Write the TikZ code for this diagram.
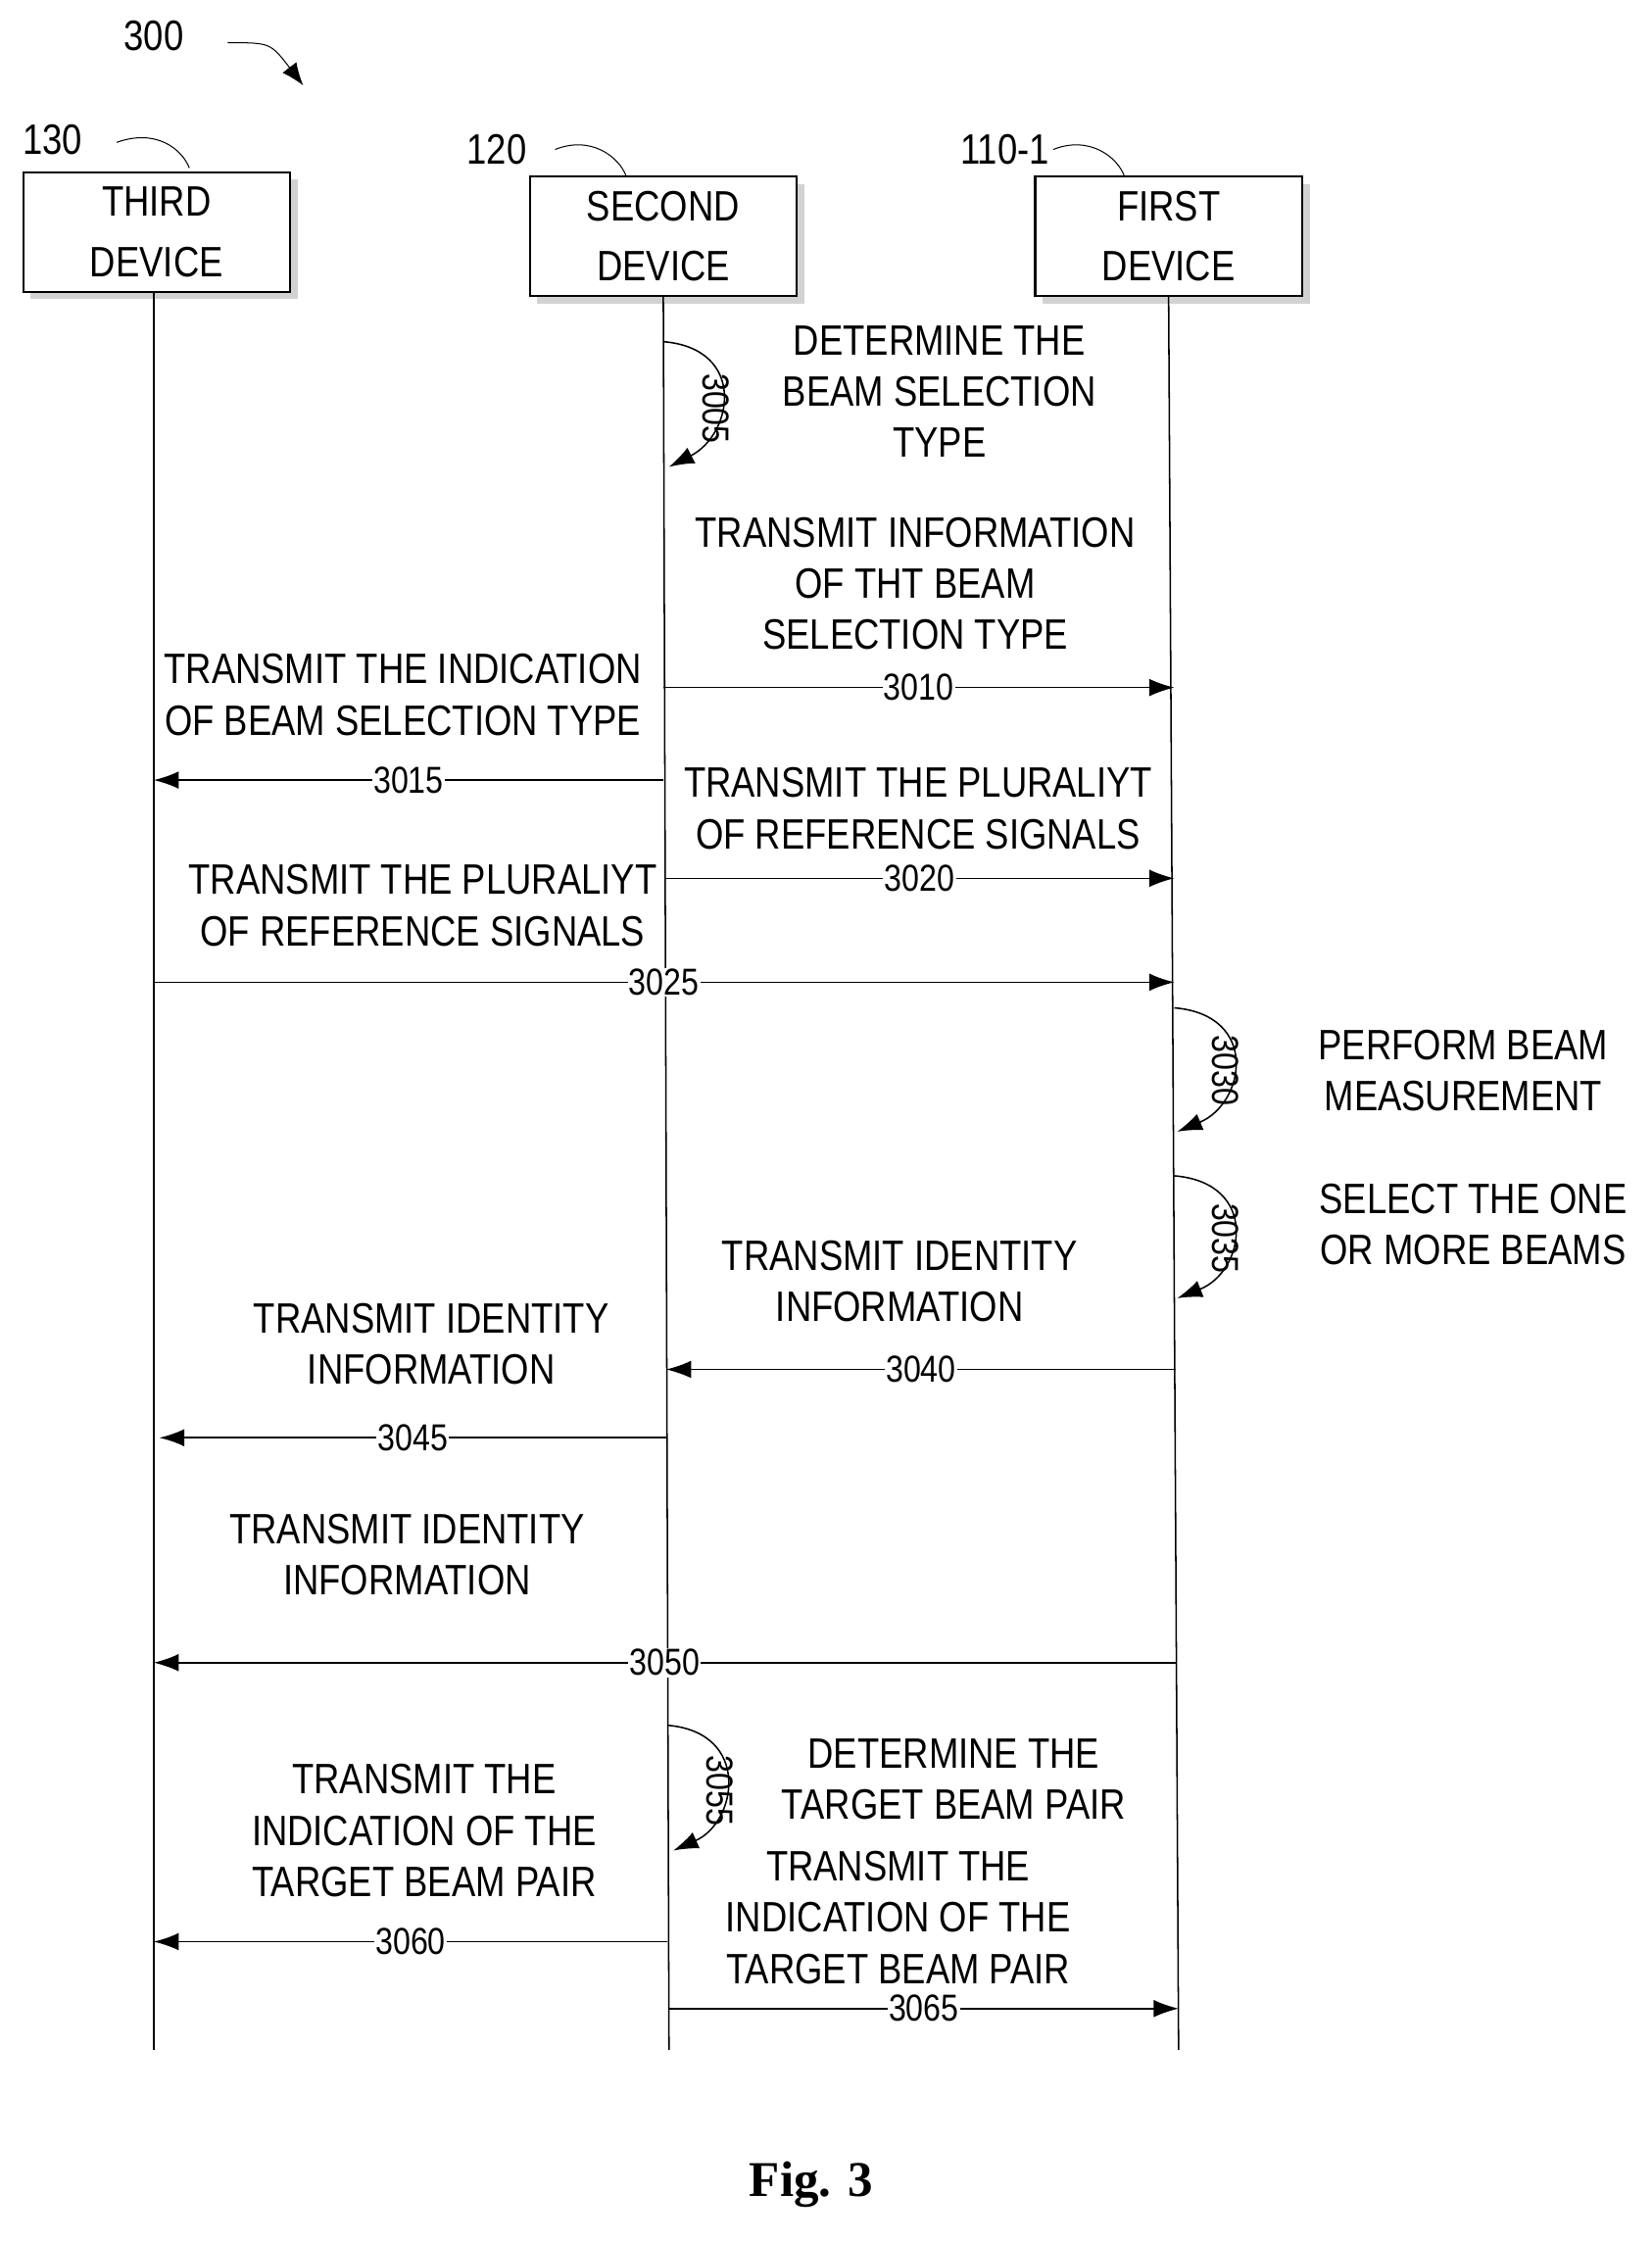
\documentclass[tikz,border=0pt]{standalone}
\usepackage{fontspec}
\setmainfont[FakeStretch=0.84]{Liberation Sans}
\newfontfamily\figfont{Liberation Serif}
\usetikzlibrary{arrows.meta,positioning,shadows,calc}
\tikzset{
    x=0.02cm,y=-0.02cm,semithick,
    dev/.style={draw,thick,fill=white,minimum width=3.75cm,minimum height=1.68cm,
        align=center,font=\fontsize{17}{24}\selectfont,
        drop shadow={shadow xshift=3pt,shadow yshift=-3pt,fill=gray!70}},
    life/.style={semithick},
    msg/.style={-{Latex[length=10pt,width=7pt]},semithick},
    num/.style={fill=white,inner sep=0.5pt,font=\fontsize{15}{15}\selectfont},
    txt/.style={align=center,font=\fontsize{17}{20.5}\selectfont},
    self/.style={-{Latex[length=10pt,width=7pt]},semithick},
    tag/.style={font=\fontsize{17}{17}\selectfont}
}
\begin{document}
\begin{tikzpicture}
    \useasboundingbox (0,0) rectangle (1160,1575);

    % devices
    \node[dev] (third) at (110,163) {THIRD\\DEVICE};
    \node[dev] (second) at (466,166) {SECOND\\DEVICE};
    \node[dev] (first) at (821,166) {FIRST\\DEVICE};

    % lifelines
    \coordinate (thirdend) at (108,1440);
    \coordinate (secondend) at (470,1440);
    \coordinate (firstend) at (828,1440);
    \draw[life] (third.south -| 108,0) -- (thirdend);
    \draw[life] (second.south) -- (secondend);
    \draw[life] (first.south) -- (firstend);

    % reference tags
    \node[tag] (fig) at (108,25) {300};
    \draw[-{Latex[length=9pt,width=7pt]}] (160,30) .. controls (190,30) .. (213,60);
    \node[tag] (t130) at (37,98) {130};
    \draw (82,100) .. controls (110,90) and (128,105) .. (133,118);
    \node[tag] (t120) at (349,105) {120};
    \draw (390,105) .. controls (415,95) and (435,110) .. (440,124);
    \node[tag] (t110) at (706,105) {110-1};
    \draw (740,105) .. controls (765,95) and (785,110) .. (790,124);

    % 3005
    \draw[self] (466,240) .. controls (525,245) and (515,305) .. (470,328);
    \node[tag,rotate=-90,font=\fontsize{15}{15}\selectfont] at (503,287) {3005};
    \node[txt] at (660,275) {DETERMINE THE\\BEAM SELECTION\\TYPE};

    % 3010
    \path[msg] (466,483) edge node[num]{3010} (825,483);
    \node[txt] at (643,410) {TRANSMIT INFORMATION\\OF THT BEAM\\SELECTION TYPE};

    % 3015
    \path[msg] (466,548) edge node[num]{3015} (108,548);
    \node[txt] at (283,488) {TRANSMIT THE INDICATION\\OF BEAM SELECTION TYPE};

    % 3020
    \path[msg] (467,617) edge node[num]{3020} (825,617);
    \node[txt] at (645,568) {TRANSMIT THE PLURALIYT\\OF REFERENCE SIGNALS};

    % 3025
    \path[msg] (108,690) edge node[num]{3025} (825,690);
    \node[txt] at (297,636) {TRANSMIT THE PLURALIYT\\OF REFERENCE SIGNALS};

    % 3030
    \draw[self] (825,708) .. controls (885,713) and (875,775) .. (827,795);
    \node[tag,rotate=-90,font=\fontsize{15}{15}\selectfont] at (861,752) {3030};
    \node[txt] at (1028,752) {PERFORM BEAM\\MEASUREMENT};

    % 3035
    \draw[self] (825,826) .. controls (885,831) and (875,893) .. (827,912);
    \node[tag,rotate=-90,font=\fontsize{15}{15}\selectfont] at (861,870) {3035};
    \node[txt] at (1035,860) {SELECT THE ONE\\OR MORE BEAMS};

    % 3040
    \path[msg] (826,962) edge node[num]{3040} (468,962);
    \node[txt] at (632,900) {TRANSMIT IDENTITY\\INFORMATION};

    % 3045
    \path[msg] (468,1010) edge node[num]{3045} (112,1010);
    \node[txt] at (303,944) {TRANSMIT IDENTITY\\INFORMATION};

    % 3050
    \path[msg] (826,1168) edge node[num]{3050} (108,1168);
    \node[txt] at (286,1092) {TRANSMIT IDENTITY\\INFORMATION};

    % 3055
    \draw[self] (469,1212) .. controls (528,1217) and (518,1280) .. (473,1300);
    \node[tag,rotate=-90,font=\fontsize{15}{15}\selectfont] at (506,1258) {3055};
    \node[txt] at (670,1250) {DETERMINE THE\\TARGET BEAM PAIR};

    % 3060
    \path[msg] (469,1364) edge node[num]{3060} (108,1364);
    \node[txt] at (298,1286) {TRANSMIT THE\\INDICATION OF THE\\TARGET BEAM PAIR};

    % 3065
    \path[msg] (470,1411) edge node[num]{3065} (828,1411);
    \node[txt] at (631,1347) {TRANSMIT THE\\INDICATION OF THE\\TARGET BEAM PAIR};

    \node[font=\figfont\bfseries\fontsize{20}{20}\selectfont] at (570,1535) {Fig. 3};
\end{tikzpicture}
\end{document}
